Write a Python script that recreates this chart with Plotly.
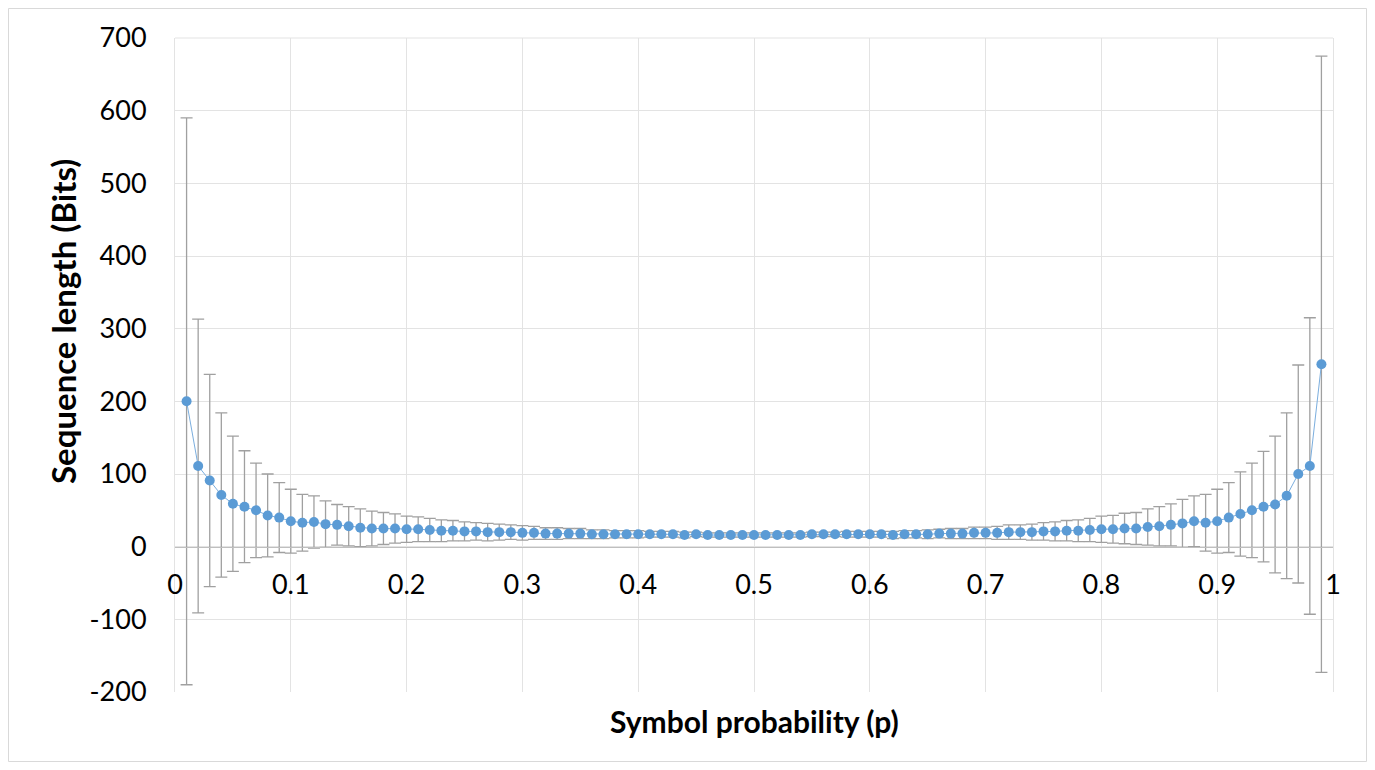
import plotly.graph_objects as go

p = [0.01, 0.02, 0.03, 0.04, 0.05, 0.06, 0.07, 0.08, 0.09, 0.10,
     0.11, 0.12, 0.13, 0.14, 0.15, 0.16, 0.17, 0.18, 0.19, 0.20,
     0.21, 0.22, 0.23, 0.24, 0.25, 0.26, 0.27, 0.28, 0.29, 0.30,
     0.31, 0.32, 0.33, 0.34, 0.35, 0.36, 0.37, 0.38, 0.39, 0.40,
     0.41, 0.42, 0.43, 0.44, 0.45, 0.46, 0.47, 0.48, 0.49, 0.50,
     0.51, 0.52, 0.53, 0.54, 0.55, 0.56, 0.57, 0.58, 0.59, 0.60,
     0.61, 0.62, 0.63, 0.64, 0.65, 0.66, 0.67, 0.68, 0.69, 0.70,
     0.71, 0.72, 0.73, 0.74, 0.75, 0.76, 0.77, 0.78, 0.79, 0.80,
     0.81, 0.82, 0.83, 0.84, 0.85, 0.86, 0.87, 0.88, 0.89, 0.90,
     0.91, 0.92, 0.93, 0.94, 0.95, 0.96, 0.97, 0.98, 0.99]

seq_len = [200, 111, 91, 71, 59, 55, 50, 43, 40, 35,
           33, 34, 31, 30, 28, 26, 25, 25, 25, 24,
           24, 23, 22, 22, 21, 21, 20, 20, 20, 19,
           19, 18, 18, 18, 18, 17, 17, 17, 17, 17,
           17, 17, 17, 16, 17, 16, 16, 16, 16, 16,
           16, 16, 16, 16, 17, 17, 17, 17, 17, 17,
           17, 16, 17, 17, 17, 18, 18, 18, 19, 19,
           19, 20, 20, 20, 21, 21, 22, 22, 23, 24,
           24, 25, 25, 27, 28, 30, 32, 35, 33, 35,
           40, 45, 50, 55, 58, 70, 100, 111, 251]

err = [390, 202, 146, 113, 93, 77, 65, 57, 48, 44,
       39, 36, 32, 28, 27, 26, 24, 22, 20, 18,
       17, 16, 15, 14, 13, 12, 12, 11, 10, 10,
       9, 8, 8, 7, 7, 6, 6, 5, 5, 5,
       4, 4, 4, 4, 3, 3, 3, 3, 3, 3,
       3, 3, 3, 3, 3, 3, 3, 4, 4, 4,
       4, 5, 5, 5, 6, 6, 7, 7, 8, 8,
       9, 10, 10, 11, 12, 13, 14, 15, 16, 18,
       19, 21, 22, 25, 27, 29, 33, 35, 39, 44,
       48, 58, 65, 76, 94, 114, 150, 204, 424]

x_ticks = [0, 0.1, 0.2, 0.3, 0.4, 0.5, 0.6, 0.7, 0.8, 0.9, 1]
x_tick_labels = ["0", "0.1", "0.2", "0.3", "0.4", "0.5", "0.6", "0.7", "0.8", "0.9", "1"]
y_ticks = [-200, -100, 0, 100, 200, 300, 400, 500, 600, 700]
y_tick_labels = ["-200", "-100", "0", "100", "200", "300", "400", "500", "600", "700"]

FONT = "Lato"
# page has an 8px body margin; figure sized so the plot lands where the reference has it
OFF = 8
W, H = 1375 - 2 * OFF, 770 - 2 * OFF
L, T = 175 - OFF, 38 - OFF
pw, ph = 1158, 654
R, B = W - L - pw, H - T - ph

def px_x(px):  # page pixel -> paper x
    return (px - OFF - L) / pw

def px_y(py):  # page pixel -> paper y
    return (T + ph - (py - OFF)) / ph

fig = go.Figure()
fig.add_trace(go.Scatter(
    x=p, y=seq_len, mode="lines+markers",
    line=dict(color="#7BAEDE", width=1),
    marker=dict(color="#5B9BD5", size=10),
    error_y=dict(type="data", array=err, symmetric=True,
                 color="#A0A0A0", thickness=1.3, width=6),
    showlegend=False,
))

fig.update_layout(
    width=W, height=H,
    margin=dict(l=L, r=R, t=T, b=B),
    paper_bgcolor="white", plot_bgcolor="white",
    font=dict(family=FONT, size=27, color="#000000"),
    xaxis=dict(
        range=[0, 1], tickvals=x_ticks, ticktext=x_tick_labels,
        showgrid=True, gridcolor="#E3E3E3", gridwidth=1,
        zeroline=False, anchor="free", position=2/9,
        showline=True, linecolor="#BFBFBF", linewidth=1,
        ticks="outside", ticklen=14, tickcolor="rgba(0,0,0,0)",
        tickfont=dict(family=FONT, size=27),
    ),
    yaxis=dict(
        range=[-200, 700], tickvals=y_ticks, ticktext=y_tick_labels,
        showgrid=True, gridcolor="#E3E3E3", gridwidth=1,
        zeroline=False, showline=True, linecolor="#E3E3E3", mirror=True,
        ticks="outside", ticklen=22, tickcolor="rgba(0,0,0,0)",
        tickfont=dict(family=FONT, size=27),
    ),
    annotations=[
        dict(text="<b>Symbol probability (p)</b>", xref="paper", yref="paper",
             x=0.5, y=px_y(721), xanchor="center", yanchor="middle",
             showarrow=False, font=dict(family=FONT, size=30)),
        dict(text="<b>Sequence length (Bits)</b>", xref="paper", yref="paper",
             x=px_x(63), y=px_y(322), xanchor="center", yanchor="middle",
             textangle=-90, showarrow=False, font=dict(family=FONT, size=33)),
    ],
    shapes=[
        dict(type="rect", xref="paper", yref="paper",
             x0=px_x(8.5), x1=px_x(1366.5), y0=px_y(761.5), y1=px_y(8.5),
             line=dict(color="#D9D9D9", width=1), fillcolor="rgba(0,0,0,0)",
             layer="below"),
        dict(type="line", xref="paper", yref="paper",
             x0=0, x1=1, y0=1, y1=1, line=dict(color="#E3E3E3", width=1)),
    ],
)

fig.write_html("out.html")
